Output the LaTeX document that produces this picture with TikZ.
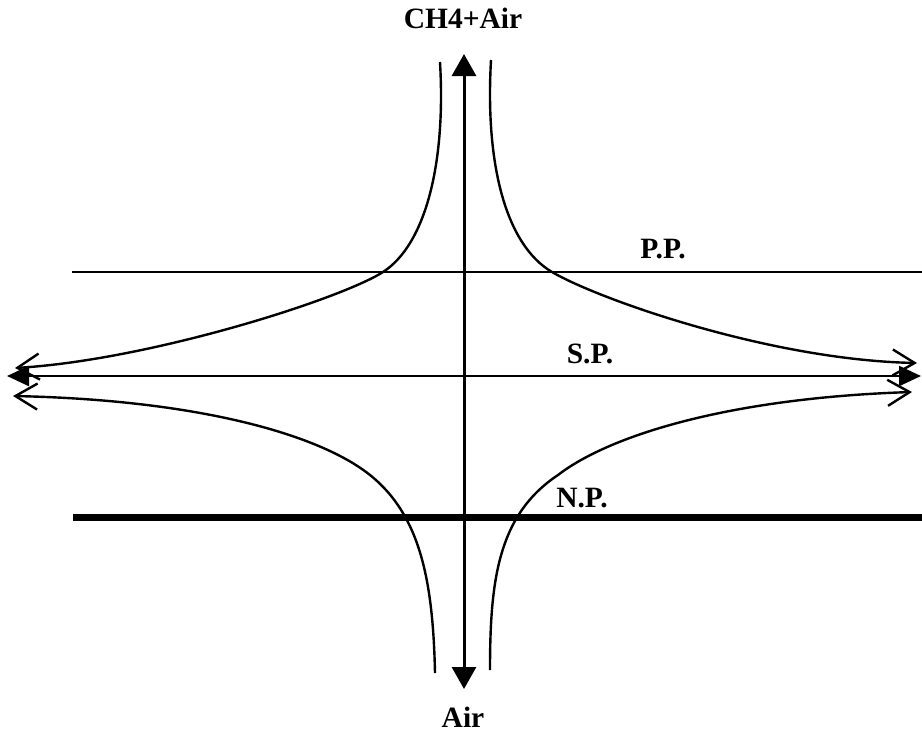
\documentclass[tikz,border=0pt]{standalone}
\usepackage{fontspec}
\setmainfont{Liberation Serif}
\usetikzlibrary{arrows.meta}
\begin{document}
\begin{tikzpicture}[x=1pt,y=-1pt,
  lbl/.style={font=\fontsize{29.5}{34}\selectfont\bfseries, inner sep=0pt},
  curve/.style={line width=2.4pt, -{Straight Barb[length=22pt,width=26pt,line width=2.4pt]}},
  flow/.style={line width=3pt, {Triangle[length=22pt,width=24pt]}-{Triangle[length=22pt,width=24pt]}},
  plane/.style={line width=2.4pt},
  thickplane/.style={line width=7pt}]
\useasboundingbox (0,0) rectangle (922,737);
% labels
\node[lbl] (ch4) at (463,18) {CH4+Air};
\node[lbl] (air) at (463,717) {Air};
\node[lbl] (pp) at (663,249) {P.P.};
\node[lbl] (sp) at (590,354) {S.P.};
\node[lbl] (np) at (582,498) {N.P.};
% coordinates
\coordinate (vt) at (464,54);
\coordinate (vb) at (464,689);
\coordinate (spL) at (7,376);
\coordinate (spR) at (921,376);
\coordinate (ppL) at (72,272);
\coordinate (ppR) at (922,272);
\coordinate (npL) at (73,517);
\coordinate (npR) at (922,517);
% planes
\draw[plane] (ppL) -- (ppR);
\draw[thickplane] (npL) -- (npR);
\draw[line width=2.4pt, {Triangle[length=22pt,width=20pt]}-{Triangle[length=22pt,width=20pt]}] (spL) -- (spR);
% vertical flow axis
\draw[flow] (vb) -- (vt);
% stream lines
\draw[curve] (440,62) .. controls (446,165) and (425,245) .. (383,272)
  .. controls (341,299) and (150,360) .. (15,368);
\draw[curve] (491,60) .. controls (485,165) and (506,245) .. (552,272)
  .. controls (598,299) and (770,360) .. (917,363);
\draw[curve] (435,673) .. controls (433,580) and (420,515) .. (370,475)
  .. controls (320,435) and (200,400) .. (13,396);
\draw[curve] (490,670) .. controls (490,580) and (498,515) .. (558,475)
  .. controls (610,435) and (730,398) .. (912,392);
\end{tikzpicture}
\end{document}
